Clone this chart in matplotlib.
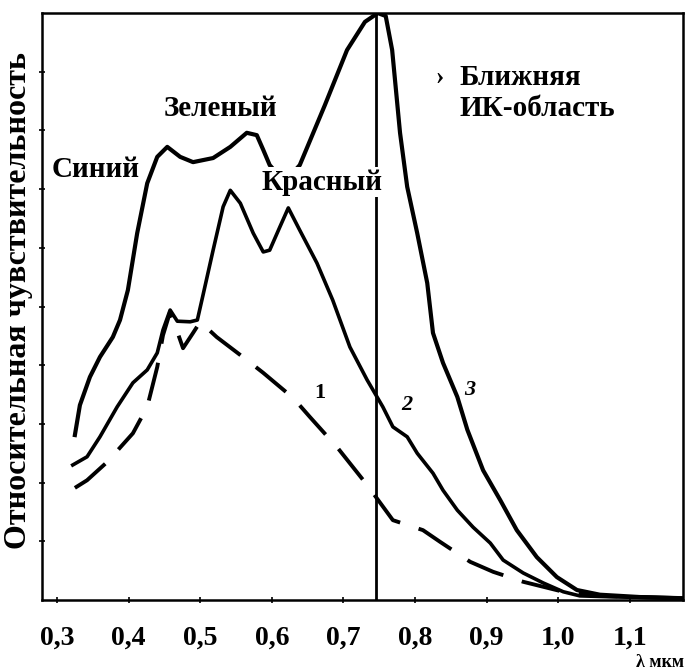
import matplotlib.pyplot as plt

# wavelength (um) / relative sensitivity
x1 = [0.325, 0.342, 0.370, 0.406, 0.426, 0.440, 0.448, 0.458, 0.468, 0.476, 0.490, 0.500,
      0.523, 0.565, 0.588, 0.630, 0.653, 0.692, 0.733, 0.769, 0.811, 0.835, 0.877, 0.909,
      0.951, 1.007, 1.058, 1.174]
y1 = [0.191, 0.204, 0.235, 0.284, 0.329, 0.397, 0.451, 0.491, 0.457, 0.429, 0.455, 0.474,
      0.448, 0.409, 0.387, 0.344, 0.312, 0.259, 0.196, 0.136, 0.119, 0.099, 0.065, 0.048,
      0.031, 0.014, 0.007, 0.003]

x2 = [0.322, 0.342, 0.360, 0.384, 0.406, 0.426, 0.440, 0.448, 0.458, 0.468, 0.486, 0.496,
      0.504, 0.518, 0.532, 0.542, 0.556, 0.574, 0.588, 0.597, 0.611, 0.623, 0.639, 0.663,
      0.685, 0.709, 0.733, 0.755, 0.769, 0.789, 0.803, 0.825, 0.839, 0.859, 0.881, 0.905,
      0.923, 0.951, 0.979, 1.007, 1.030, 1.086, 1.174]
y2 = [0.230, 0.244, 0.278, 0.329, 0.370, 0.392, 0.421, 0.460, 0.494, 0.475, 0.474, 0.477,
      0.520, 0.596, 0.670, 0.698, 0.676, 0.625, 0.593, 0.596, 0.635, 0.668, 0.630, 0.574,
      0.511, 0.431, 0.375, 0.329, 0.295, 0.278, 0.250, 0.216, 0.187, 0.153, 0.124, 0.097,
      0.068, 0.046, 0.029, 0.014, 0.007, 0.005, 0.003]

x3 = [0.325, 0.332, 0.346, 0.360, 0.378, 0.388, 0.399, 0.412, 0.426, 0.440, 0.454, 0.472,
      0.490, 0.518, 0.542, 0.565, 0.579, 0.588, 0.597, 0.618, 0.639, 0.674, 0.705, 0.730,
      0.748, 0.759, 0.768, 0.779, 0.789, 0.803, 0.817, 0.825, 0.839, 0.859, 0.873, 0.895,
      0.919, 0.942, 0.970, 0.998, 1.026, 1.058, 1.114, 1.174]
y3 = [0.281, 0.332, 0.380, 0.414, 0.448, 0.477, 0.528, 0.625, 0.710, 0.755, 0.772, 0.755,
      0.746, 0.753, 0.772, 0.796, 0.792, 0.767, 0.741, 0.712, 0.741, 0.843, 0.937, 0.985,
      1.000, 0.995, 0.937, 0.796, 0.704, 0.625, 0.540, 0.455, 0.404, 0.346, 0.290, 0.221,
      0.170, 0.119, 0.073, 0.039, 0.017, 0.009, 0.005, 0.003]

x_ticks = [0.3, 0.4, 0.5, 0.6, 0.7, 0.8, 0.9, 1.0, 1.1]
x_labels = ["0,3", "0,4", "0,5", "0,6", "0,7", "0,8", "0,9", "1,0", "1,1"]
ir_edge = 0.745

font = "Liberation Serif"

fig = plt.figure(figsize=(6.99, 6.70), dpi=100)
ax = fig.add_axes([0.060, 0.1045, 0.917, 0.876])

ax.plot(x1, y1, color="black", lw=2.8, dashes=(10, 5), solid_capstyle="round")
ax.plot(x2, y2, color="black", lw=2.6)
ax.plot(x3, y3, color="black", lw=3.0)
ax.axvline(ir_edge, color="black", lw=2)

ax.set_xlim(0.279, 1.174)
ax.set_ylim(0, 1.0)

ax.set_xticks(x_ticks)
ax.set_xticklabels(x_labels, fontfamily=font, fontweight="bold", fontsize=20)
ax.set_yticks([0.1 * i for i in range(1, 10)])
ax.set_yticklabels([])
ax.tick_params(axis="both", direction="inout", length=5, width=1.2, pad=16)
for s in ax.spines.values():
    s.set_linewidth(1.8)

kw = dict(fontfamily=font, fontweight="bold", color="black")
ax.text(0.354, 0.733, "Синий", ha="center", va="center", fontsize=21, **kw)
ax.text(0.528, 0.838, "Зеленый", ha="center", va="center", fontsize=21, **kw)
ax.text(0.670, 0.712, "Красный", ha="center", va="center", fontsize=21,
        bbox=dict(facecolor="white", edgecolor="none", pad=1), **kw)
ax.text(0.835, 0.891, "›", ha="center", va="center", fontsize=18, **kw)
ax.text(0.862, 0.891, "Ближняя", ha="left", va="center", fontsize=21, **kw)
ax.text(0.862, 0.838, "ИК-область", ha="left", va="center", fontsize=21, **kw)
ax.text(0.667, 0.353, "1", ha="center", va="center", fontsize=16, **kw)
ax.text(0.789, 0.332, "2", ha="center", va="center", fontsize=16, style="italic", **kw)
ax.text(0.877, 0.358, "3", ha="center", va="center", fontsize=16, style="italic", **kw)
ax.text(1.142, -0.107, "λ мкм", ha="center", va="center", fontsize=13, clip_on=False, **kw)

fig.text(0.026, 0.552, "Относительная чувствительность", rotation=90,
         ha="center", va="center", fontsize=23, **kw)

fig.savefig("out.png", dpi=100)
